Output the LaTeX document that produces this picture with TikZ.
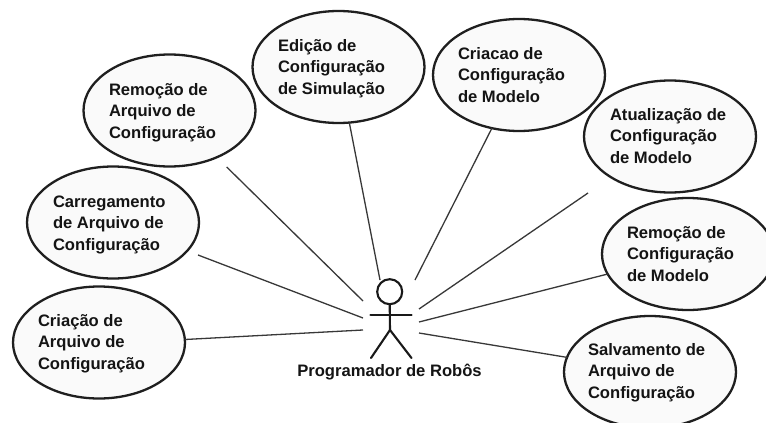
\documentclass[tikz,border=0pt]{standalone}
\usepackage{fontspec}
\setmainfont{Liberation Sans}
\usetikzlibrary{shapes.geometric}
\tikzset{
  usecase/.style={ellipse,draw=black!88,line width=2.3pt,fill=black!2,minimum width=172pt,minimum height=112pt,inner sep=0pt,outer sep=0pt},
  lbl/.style={anchor=base west,align=left,inner sep=0pt,outer sep=0pt,text=black!92,font=\fontsize{16.6}{21.2}\selectfont\bfseries},
  assoc/.style={draw=black!78,line width=1.3pt},
  limb/.style={draw=black!90,line width=2.1pt,line cap=round}
}
\begin{document}
\begin{tikzpicture}[x=1pt,y=-1pt]
\clip (0,0) rectangle (766,423);
\fill[white] (0,0) rectangle (766,423);
% use cases
\node[usecase] (remarq) at (169.5,110.5) {};
\node[usecase] (edicao) at (338.5,67) {};
\node[usecase] (criamod) at (519,75) {};
\node[usecase] (atual) at (670,136.5) {};
\node[usecase] (remmod) at (688,254) {};
\node[usecase] (salv) at (650,372) {};
\node[usecase] (carr) at (113,222.5) {};
\node[usecase] (criarq) at (99,342.5) {};
% labels
\node[lbl] (t1) at (109,138) {Remoção de\\Arquivo de\\Configuração};
\node[lbl] (t2) at (278,94) {Edição de\\Configuração\\de Simulação};
\node[lbl] (t3) at (458,102) {Criacao de\\Configuração\\de Modelo};
\node[lbl] (t4) at (610,163) {Atualização de\\Configuração\\de Modelo};
\node[lbl] (t5) at (627,281) {Remoção de\\Configuração\\de Modelo};
\node[lbl] (t6) at (588,398) {Salvamento de\\Arquivo de\\Configuração};
\node[lbl] (t7) at (53,250) {Carregamento\\de Arquivo de\\Configuração};
\node[lbl] (t8) at (38,369) {Criação de\\Arquivo de\\Configuração};
% actor
\node[circle,draw=black!90,line width=2.1pt,minimum size=25pt,inner sep=0pt,outer sep=0pt] (head) at (389.7,291.7) {};
\coordinate (armL) at (370.5,315);
\coordinate (armR) at (411.5,315);
\coordinate (hip) at (390,330);
\coordinate (footL) at (371,358);
\coordinate (footR) at (411.5,358);
\draw[limb] (head.south) -- (hip);
\draw[limb] (armL) -- (armR);
\draw[limb] (footL) -- (hip) -- (footR);
\node[lbl,anchor=base] (actor) at (389.5,376) {Programador de Robôs};
% connector ends
\coordinate (a1) at (226.7,167); \coordinate (b1) at (363,301);
\coordinate (b2) at (380,280);
\coordinate (b3) at (415,280);
\coordinate (a4) at (588,193); \coordinate (b4) at (419,309);
\coordinate (b5) at (419,322);
\coordinate (b6) at (419,333);
\coordinate (a7) at (198,255); \coordinate (b7) at (363,318);
\coordinate (b8) at (363,330);
\draw[assoc] (a1) -- (b1);
\draw[assoc] (edicao.-79.6) -- (b2);
\draw[assoc] (criamod.-117) -- (b3);
\draw[assoc] (a4) -- (b4);
\draw[assoc] (remmod.-166) -- (b5);
\draw[assoc] (salv.170.6) -- (b6);
\draw[assoc] (a7) -- (b7);
\draw[assoc] (criarq.2.3) -- (b8);
\end{tikzpicture}
\end{document}
